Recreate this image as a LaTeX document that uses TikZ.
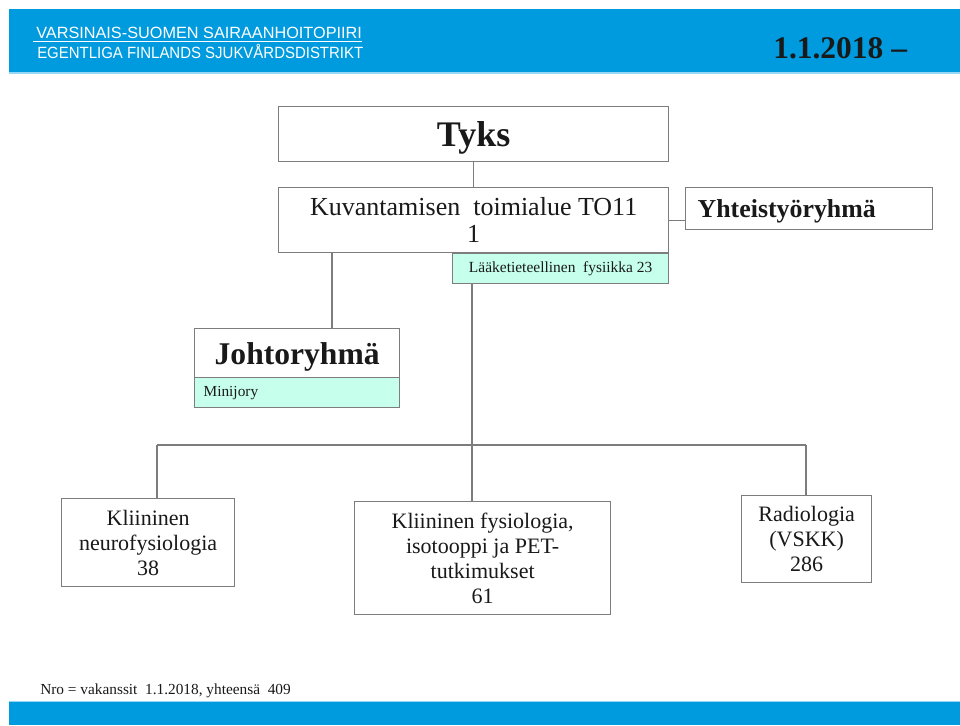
\documentclass[tikz,border=0pt]{standalone}
\usepackage{fontspec}
\setmainfont{Liberation Serif}
\setsansfont{Liberation Sans}
\usetikzlibrary{calc}
\definecolor{hdr}{RGB}{0,155,222}
\definecolor{hdrlight}{RGB}{150,215,245}
\definecolor{mint}{RGB}{198,255,236}
\definecolor{edge}{RGB}{125,125,125}
\definecolor{ink}{RGB}{25,25,25}
\begin{document}
\begin{tikzpicture}[x=0.75pt,y=-0.75pt,
  box/.style={draw=edge, line width=1pt, fill=white, inner sep=0pt, anchor=north west,
    align=center, text=ink, font=\fontsize{16.5}{18.75}\selectfont},
  subbox/.style={box, fill=mint, font=\fontsize{11.6}{13}\selectfont},
  link/.style={draw=edge, line width=1pt},
  hdrtext/.style={anchor=base west, inner sep=0pt, text=white, font=\sffamily\fontsize{12.2}{14}\selectfont}]
\useasboundingbox (0,0) rectangle (960,725);
% header and footer bands
\fill[hdr] (9,9) rectangle (960,72);
\fill[hdrlight] (9,72) rectangle (960,74);
\node[hdrtext] (h1) at (36,38) {VARSINAIS-SUOMEN SAIRAANHOITOPIIRI};
\draw[white, line width=1.1pt] (33,41.5) -- (362,41.5);
\node[hdrtext] (h2) at (37,58) {\scalebox{0.92}[1]{EGENTLIGA FINLANDS SJUKVÅRDSDISTRIKT}};
\node[anchor=base west, inner sep=0pt, text=ink, font=\bfseries\fontsize{23.6}{26}\selectfont] (date) at (773,58) {1.1.2018 –};
\fill[hdrlight] (9,700.5) rectangle (960,702);
\fill[hdr] (9,702) rectangle (960,725);
\node[anchor=base west, inner sep=0pt, text=ink, font=\fontsize{11.5}{13}\selectfont] (note) at (40,694) {Nro = vakanssit\ \ 1.1.2018, yhteensä\ \ 409};

% boxes
\node[box, minimum width=292.5pt, minimum height=41.25pt, text depth=0pt, font=\bfseries\fontsize{27}{30}\selectfont] (tyks) at (278,106) {Tyks};
\node[box, minimum width=292.5pt, minimum height=48.75pt, font=\fontsize{19.5}{20}\selectfont] (kuv) at (278,187) {Kuvantamisen\ \ toimialue TO11\\1};
\node[subbox, minimum width=162pt, minimum height=22.5pt] (lft) at (452,253) {Lääketieteellinen\ \ fysiikka 23};
\node[box, minimum width=185.25pt, minimum height=31.5pt, inner xsep=9pt, text width=167.25pt, text depth=0pt, align=left, font=\bfseries\fontsize{19.4}{22}\selectfont] (yht) at (685,187) {Yhteistyöryhmä};
\node[box, minimum width=153.75pt, minimum height=36.75pt, text depth=0pt, font=\bfseries\fontsize{23.7}{26}\selectfont] (johto) at (194,328) {Johtoryhmä};
\node[subbox, minimum width=153.75pt, minimum height=22.5pt, inner xsep=6.75pt, text width=140.25pt, align=left, font=\fontsize{11.5}{13}\selectfont] (mini) at (194,377) {Minijory};
\node[box, minimum width=129.75pt, minimum height=66pt] (neuro) at (61,498) {Kliininen\\neurofysiologia\\38};
\node[box, minimum width=192pt, minimum height=84.75pt] (mid) at (354,501) {Kliininen fysiologia,\\isotooppi ja PET-\\tutkimukset\\61};
\node[box, minimum width=97.5pt, minimum height=65.25pt] (radio) at (741,495) {Radiologia\\(VSKK)\\286};

% connectors
\coordinate (jx) at (332,328);
\coordinate (bus) at (472,445);
\coordinate (d1) at (157,445);
\coordinate (d3) at (806,445);
\draw[link] (tyks.south) -- (kuv.north);
\draw[link] (kuv.east) -- (kuv.east -| yht.west);
\draw[link] (kuv.south -| jx) -- (jx);
\draw[link] (lft.south -| bus) -- (bus);
\draw[link] (d1) -- (d3);
\draw[link] (d1) -- (d1 |- neuro.north);
\draw[link] (bus) -- (bus |- mid.north);
\draw[link] (d3) -- (d3 |- radio.north);
\end{tikzpicture}
\end{document}
